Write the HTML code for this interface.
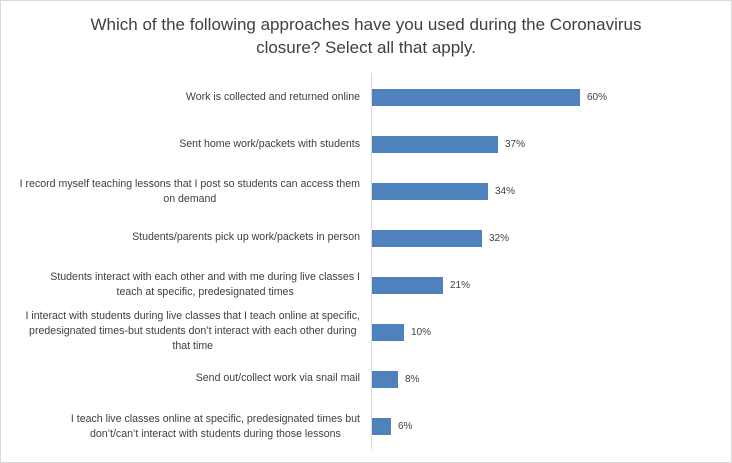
<!DOCTYPE html>
<html><head><meta charset="utf-8"><style>
body{margin:0;background:#fff;}
#c{position:relative;width:730px;height:461px;border:1px solid #d9d9d9;overflow:hidden;font-family:"Liberation Sans",sans-serif;color:#404040;}
.t{position:absolute;left:0;width:730px;text-align:center;font-size:17px;color:#404040;top:12px;line-height:23px;}
.ax{position:absolute;left:370px;top:72px;width:1px;height:376px;background:#d9d9d9;}
.b{position:absolute;left:371px;height:17px;background:#4f81bd;}
.v{position:absolute;font-size:10px;}
.l{position:absolute;right:371px;width:365px;text-align:right;font-size:10.6px;line-height:15px;white-space:nowrap;}
.l span{display:inline-block;text-align:center;}
</style></head><body><div id="c">
<div class="t">Which of the following approaches have you used during the Coronavirus<br>closure? Select all that apply.</div>
<div class="ax"></div>
<div class="b" style="top:88px;width:208px"></div><div class="v" style="left:586px;top:91px">60%</div>
<div class="b" style="top:135px;width:126px"></div><div class="v" style="left:504px;top:138px">37%</div>
<div class="b" style="top:182px;width:116px"></div><div class="v" style="left:494px;top:185px">34%</div>
<div class="b" style="top:229px;width:110px"></div><div class="v" style="left:488px;top:232px">32%</div>
<div class="b" style="top:276px;width:71px"></div><div class="v" style="left:449px;top:279px">21%</div>
<div class="b" style="top:323px;width:32px"></div><div class="v" style="left:410px;top:326px">10%</div>
<div class="b" style="top:370px;width:26px"></div><div class="v" style="left:404px;top:373px">8%</div>
<div class="b" style="top:417px;width:19px"></div><div class="v" style="left:397px;top:420px">6%</div>
<div class="l" style="top:89px">Work is collected and returned online</div>
<div class="l" style="top:136px">Sent home work/packets with students</div>
<div class="l" style="top:176px"><span>I record myself teaching lessons that I post so students can access them<br>on demand</span></div>
<div class="l" style="top:229px">Students/parents pick up work/packets in person</div>
<div class="l" style="top:269px"><span>Students interact with each other and with me during live classes I<br>teach at specific, predesignated times</span></div>
<div class="l" style="top:308px"><span>I interact with students during live classes that I teach online at specific,<br>predesignated times-but students don’t interact with each other during<br>that time</span></div>
<div class="l" style="top:370px">Send out/collect work via snail mail</div>
<div class="l" style="top:411px"><span>I teach live classes online at specific, predesignated times but<br>don’t/can’t interact with students during those lessons</span></div>
</div></body></html>
